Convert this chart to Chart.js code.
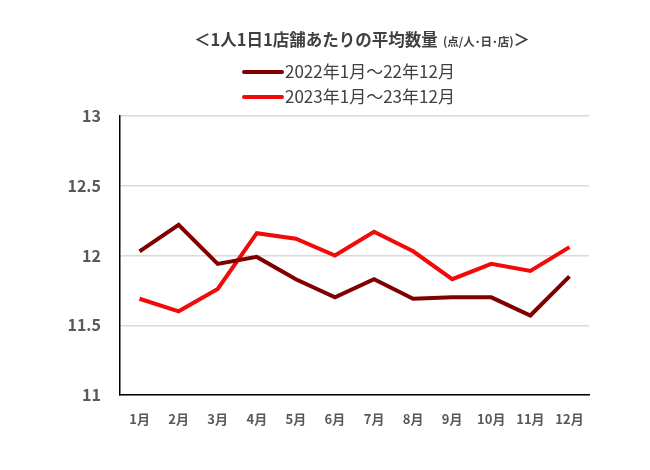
<!DOCTYPE html>
<html lang="ja">
<head>
    <meta charset="UTF-8">
    <title>1人1日1店舗あたりの平均数量</title>
    <script src="https://cdn.jsdelivr.net/npm/chart.js"></script>
    <style>
        html, body {
            margin: 0;
            padding: 0;
            background: #fff;
        }
        .chart-box {
            width: 650px;
            height: 470px;
            position: relative;
        }
    </style>
</head>
<body>
    <div class="chart-box">
        <canvas id="lineChart"></canvas>
    </div>

    <script>
        const months = ["1月", "2月", "3月", "4月", "5月", "6月", "7月", "8月", "9月", "10月", "11月", "12月"];
        const seriesNames = ["2022年1月～22年12月", "2023年1月～23年12月"];
        const values2022 = [12.03, 12.22, 11.94, 11.99, 11.83, 11.70, 11.83, 11.69, 11.70, 11.70, 11.57, 11.85];
        const values2023 = [11.69, 11.60, 11.76, 12.16, 12.12, 12.00, 12.17, 12.03, 11.83, 11.94, 11.89, 12.06];
        const titleMain = "＜1人1日1店舗あたりの平均数量";
        const titleUnit = "(点/人･日･店)";
        const titleEnd = "＞";

        const FONT = "'Noto Sans CJK JP', 'Noto Sans', sans-serif";

        // title + two-row legend drawn by hand (Chart.js legend won't stack like this)
        const headerPlugin = {
            id: "header",
            afterDraw(chart) {
                const ctx = chart.ctx;
                ctx.save();
                ctx.textBaseline = "middle";
                ctx.fillStyle = "#404040";

                const big = "bold 16.5px " + FONT;
                const small = "bold 11.5px " + FONT;
                ctx.font = big;
                const w1 = ctx.measureText(titleMain).width;
                ctx.font = small;
                const w2 = ctx.measureText("  " + titleUnit).width;
                ctx.font = big;
                const w3 = ctx.measureText(titleEnd).width;
                let x = 362 - (w1 + w2 + w3) / 2;
                ctx.fillText(titleMain, x, 40);
                x += w1;
                ctx.font = small;
                ctx.fillText("  " + titleUnit, x, 42);
                x += w2;
                ctx.font = big;
                ctx.fillText(titleEnd, x, 40);

                ctx.font = "17px " + FONT;
                chart.data.datasets.forEach((ds, i) => {
                    const y = 72 + i * 25;
                    ctx.strokeStyle = ds.borderColor;
                    ctx.lineWidth = 4;
                    ctx.lineCap = "round";
                    ctx.beginPath();
                    ctx.moveTo(244, y);
                    ctx.lineTo(282, y);
                    ctx.stroke();
                    ctx.fillText(ds.label, 285, y);
                });
                ctx.restore();
            }
        };

        const ctx = document.getElementById("lineChart").getContext("2d");
        const lineChart = new Chart(ctx, {
            type: "line",
            data: {
                labels: months,
                datasets: [{
                    label: seriesNames[0],
                    data: values2022,
                    borderColor: "#800000",
                    borderWidth: 4,
                    pointRadius: 0,
                    tension: 0
                }, {
                    label: seriesNames[1],
                    data: values2023,
                    borderColor: "#f00a0a",
                    borderWidth: 4,
                    pointRadius: 0,
                    tension: 0
                }]
            },
            options: {
                responsive: true,
                maintainAspectRatio: false,
                animation: false,
                layout: {
                    padding: { top: 116, right: 61, bottom: 0, left: 0 }
                },
                plugins: {
                    legend: { display: false },
                    title: { display: false },
                    tooltip: { enabled: false }
                },
                scales: {
                    x: {
                        offset: true,
                        grid: { display: false, drawTicks: false },
                        border: { display: true, color: "#000", width: 1.5 },
                        ticks: {
                            padding: 16,
                            color: "#595959",
                            font: { family: FONT, size: 13, weight: "bold" },
                            maxRotation: 0
                        },
                        afterFit(scale) { scale.height = 75; }
                    },
                    y: {
                        min: 11,
                        max: 13,
                        grid: { color: "#d9d9d9", lineWidth: 1.5, drawTicks: false },
                        border: { display: true, color: "#000", width: 1.5 },
                        ticks: {
                            stepSize: 0.5,
                            padding: 19,
                            color: "#595959",
                            font: { family: FONT, size: 16, weight: "bold" },
                            callback: v => String(v)
                        },
                        afterFit(scale) { scale.width = 120; }
                    }
                }
            },
            plugins: [headerPlugin]
        });
    </script>
</body>
</html>
